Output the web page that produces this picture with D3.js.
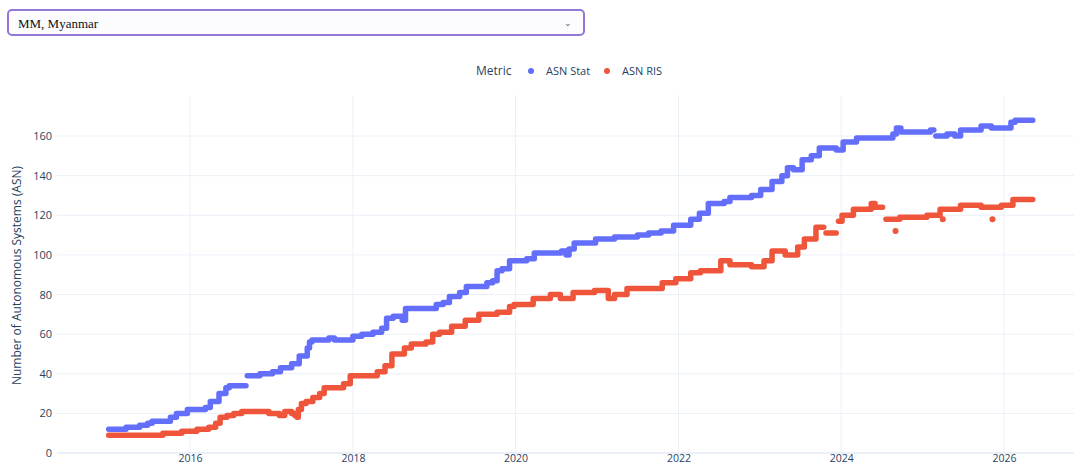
<!DOCTYPE html>
<html>
<meta charset='utf-8'>
<head>
<title>ASN count</title>
<script src='https://d3js.org/d3.v7.min.js'></script>
<style>
body { margin: 0; background: #fff; font-family: 'Open Sans', sans-serif; }
#picker { position: absolute; left: 7px; top: 9px; width: 578px; height: 27px; box-sizing: border-box;
  border: 2px solid #9377d6; border-radius: 5px; background: #fcfcfe; }
#picker select { appearance: none; -webkit-appearance: none; border: none; background: transparent; width: 100%; height: 100%;
  font-family: 'Liberation Serif', 'Times New Roman', serif; font-size: 13px; color: #111; padding: 0 0 0 9px; outline: none; }
#picker span { position: absolute; right: 11px; top: 5px; font-size: 9px; color: #555; pointer-events: none; }
#my_dataviz { position: absolute; left: 0; top: 0; }
</style>
</head>

<body>
<div id='picker'><select id='selectButton'></select><span>&#8964;</span></div>
<div id='my_dataviz'></div>
<script>

var countries = ['MM, Myanmar']
var metrics = ['ASN Stat', 'ASN RIS']
var colors = ['#636efa', '#ef553b']
var yTicks = [0, 20, 40, 60, 80, 100, 120, 140, 160]
var xTickYears = [2016, 2018, 2020, 2022, 2024, 2026]

// [start date, value] - each value holds until the next entry; null = no data
var statSteps = [
  ['2015-01-01', 12], ['2015-03-20', 13], ['2015-05-20', 14], ['2015-06-25', 15], ['2015-07-15', 16],
  ['2015-10-05', 18], ['2015-11-01', 20], ['2015-12-20', 22], ['2016-03-10', 23], ['2016-04-01', 26],
  ['2016-05-10', 30], ['2016-06-10', 33], ['2016-06-25', 34], ['2016-09-08', 34], ['2016-09-10', null],
  ['2016-09-14', 39], ['2016-11-10', 40], ['2017-01-05', 41], ['2017-02-10', 43], ['2017-04-01', 45],
  ['2017-05-05', 49], ['2017-06-10', 53], ['2017-06-20', 56], ['2017-07-01', 57], ['2017-09-15', 58],
  ['2017-10-10', 57], ['2018-01-01', 59], ['2018-02-10', 60], ['2018-04-01', 61], ['2018-05-10', 63],
  ['2018-06-01', 68], ['2018-07-01', 69], ['2018-08-10', 67], ['2018-08-25', 73], ['2019-01-10', 75],
  ['2019-02-10', 76], ['2019-03-10', 79], ['2019-04-25', 81], ['2019-05-25', 84], ['2019-08-25', 86],
  ['2019-09-20', 87], ['2019-10-10', 92], ['2019-11-01', 93], ['2019-12-05', 97], ['2020-02-20', 98],
  ['2020-03-25', 101], ['2020-07-25', 102], ['2020-08-15', 100], ['2020-08-28', 103], ['2020-09-20', 106],
  ['2020-12-25', 108], ['2021-03-20', 109], ['2021-07-01', 110], ['2021-08-20', 111], ['2021-10-15', 112],
  ['2021-12-10', 115], ['2022-02-25', 118], ['2022-04-05', 121], ['2022-05-15', 126], ['2022-07-25', 127],
  ['2022-08-20', 129], ['2022-11-25', 130], ['2023-01-05', 133], ['2023-02-25', 137], ['2023-04-10', 140],
  ['2023-05-05', 144], ['2023-06-01', 143], ['2023-07-10', 148], ['2023-08-20', 150], ['2023-09-25', 154],
  ['2023-12-10', 153], ['2024-01-10', 157], ['2024-03-10', 159], ['2024-08-20', 161], ['2024-09-05', 164],
  ['2024-09-25', 162], ['2025-02-05', 163], ['2025-02-20', 163], ['2025-02-24', null],
  ['2025-03-01', 160], ['2025-04-20', 161], ['2025-05-25', 160], ['2025-06-20', 163], ['2025-09-20', 165],
  ['2025-11-05', 164], ['2026-02-01', 167], ['2026-02-20', 168], ['2026-05-10', 168]
]

var risSteps = [
  ['2015-01-01', 9], ['2015-09-01', 10], ['2015-11-25', 11], ['2016-02-01', 12], ['2016-03-25', 13],
  ['2016-04-25', 15], ['2016-05-15', 18], ['2016-06-15', 19], ['2016-07-15', 20], ['2016-08-20', 21],
  ['2016-12-20', 20], ['2017-02-05', 19], ['2017-03-01', 21], ['2017-04-01', 20], ['2017-04-15', 19],
  ['2017-04-25', 18], ['2017-05-01', 22], ['2017-05-15', 25], ['2017-06-05', 26], ['2017-07-05', 28],
  ['2017-08-05', 30], ['2017-08-25', 33], ['2017-11-20', 35], ['2017-12-20', 39], ['2018-04-20', 41],
  ['2018-05-25', 44], ['2018-06-25', 50], ['2018-08-20', 53], ['2018-09-20', 55], ['2018-11-25', 56],
  ['2018-12-25', 60], ['2019-01-25', 61], ['2019-03-20', 64], ['2019-05-20', 67], ['2019-07-20', 70],
  ['2019-10-10', 71], ['2019-12-05', 74], ['2019-12-25', 75], ['2020-03-20', 78], ['2020-06-05', 80],
  ['2020-07-20', 78], ['2020-09-15', 81], ['2020-12-20', 82], ['2021-02-20', 78], ['2021-03-20', 80],
  ['2021-05-15', 83], ['2021-10-20', 86], ['2021-12-20', 88], ['2022-02-25', 91], ['2022-04-10', 92],
  ['2022-07-10', 97], ['2022-08-20', 95], ['2022-11-25', 94], ['2023-01-20', 97], ['2023-02-25', 102],
  ['2023-04-25', 100], ['2023-06-20', 104], ['2023-07-20', 108], ['2023-09-10', 114], ['2023-10-15', 114],
  ['2023-10-18', null], ['2023-10-25', 111], ['2023-12-10', 111], ['2023-12-14', null],
  ['2023-12-20', 117], ['2024-01-05', 120], ['2024-02-25', 123], ['2024-05-15', 126], ['2024-06-01', 124],
  ['2024-07-05', 124], ['2024-07-10', null], ['2024-07-20', 118], ['2024-09-20', 119], ['2025-01-20', 120],
  ['2025-03-20', 123], ['2025-06-20', 125], ['2025-09-20', 124], ['2025-12-20', 125], ['2026-02-10', 128],
  ['2026-05-10', 128]
]

var risOutliers = [['2024-09-01', 112], ['2025-04-01', 118], ['2025-11-10', 118]]

var width = 1074, height = 466
var plot = {left: 57, right: 1074, top: 95, bottom: 456}
var parseDate = d3.timeParse('%Y-%m-%d')

d3.select('#selectButton')
  .selectAll('option')
  .data(countries)
  .enter()
  .append('option')
  .text(function(d) { return d })
  .attr('value', function(d) { return d })

var svg = d3.select('#my_dataviz')
  .append('svg')
  .attr('width', width)
  .attr('height', height)
  .style('font-family', "'Open Sans', sans-serif")

var x = d3.scaleTime()
  .domain([parseDate('2014-05-14'), parseDate('2026-11-11')])
  .range([plot.left, plot.right])

var y = d3.scaleLinear()
  .domain([-1.5, 180.7])
  .range([plot.bottom, plot.top])

// grid
svg.append('g')
  .selectAll('line')
  .data(xTickYears)
  .enter()
  .append('line')
  .attr('x1', function(d) { return x(new Date(d, 0, 1)) })
  .attr('x2', function(d) { return x(new Date(d, 0, 1)) })
  .attr('y1', plot.top)
  .attr('y2', plot.bottom)
  .attr('stroke', '#ebf0f8')
  .attr('stroke-width', 1)

svg.append('g')
  .selectAll('line')
  .data(yTicks)
  .enter()
  .append('line')
  .attr('x1', plot.left)
  .attr('x2', plot.right)
  .attr('y1', function(d) { return y(d) })
  .attr('y2', function(d) { return y(d) })
  .attr('stroke', '#ebf0f8')
  .attr('stroke-width', function(d) { return d === 0 ? 2 : 1 })

// axes
var xAxis = svg.append('g')
  .attr('transform', 'translate(0,' + plot.bottom + ')')
  .call(d3.axisBottom(x)
    .tickValues(xTickYears.map(function(d) { return new Date(d, 0, 1) }))
    .tickFormat(d3.timeFormat('%Y'))
    .tickSize(0)
    .tickPadding(-1))
xAxis.select('.domain').remove()
xAxis.selectAll('text').attr('fill', '#2a3f5f').style('font-size', '10.5px').style('font-family', "'Open Sans', sans-serif")

var yAxis = svg.append('g')
  .attr('transform', 'translate(' + plot.left + ',0)')
  .call(d3.axisLeft(y).tickValues(yTicks).tickSize(0).tickPadding(5))
yAxis.select('.domain').remove()
yAxis.selectAll('text').attr('fill', '#2a3f5f').style('font-size', '11px').style('font-family', "'Open Sans', sans-serif")

svg.append('text')
  .text('Number of Autonomous Systems (ASN)')
  .attr('transform', 'translate(21,' + ((plot.top + plot.bottom) / 2) + ') rotate(-90)')
  .attr('text-anchor', 'middle')
  .attr('fill', '#2a3f5f')
  .style('font-size', '12px')

// series
var line = d3.line()
  .defined(function(d) { return d[1] !== null })
  .x(function(d) { return x(parseDate(d[0])) })
  .y(function(d) { return y(d[1]) })
  .curve(d3.curveStepAfter)

var series = [statSteps, risSteps]
svg.append('g')
  .selectAll('path')
  .data(series)
  .enter()
  .append('path')
  .attr('d', function(d) { return line(d) })
  .attr('fill', 'none')
  .attr('stroke', function(d, i) { return colors[i] })
  .attr('stroke-width', 5.5)
  .attr('stroke-linejoin', 'round')
  .attr('stroke-linecap', 'round')

svg.append('g')
  .selectAll('circle')
  .data(risOutliers)
  .enter()
  .append('circle')
  .attr('cx', function(d) { return x(parseDate(d[0])) })
  .attr('cy', function(d) { return y(d[1]) })
  .attr('r', 3)
  .attr('fill', colors[1])

// legend
var legend = svg.append('g').attr('transform', 'translate(476,75)')
legend.append('text')
  .text('Metric')
  .attr('fill', '#2a3f5f')
  .style('font-size', '12px')
var legendPos = [55, 131]
var items = legend.selectAll('.item')
  .data(metrics)
  .enter()
  .append('g')
  .attr('class', 'item')
  .attr('transform', function(d, i) { return 'translate(' + legendPos[i] + ',0)' })
items.append('circle')
  .attr('cx', 0)
  .attr('cy', -4)
  .attr('r', 3)
  .attr('fill', function(d, i) { return colors[i] })
items.append('text')
  .text(function(d) { return d })
  .attr('x', 15)
  .attr('fill', '#2a3f5f')
  .style('font-size', '11px')

</script>
</body>
</html>
